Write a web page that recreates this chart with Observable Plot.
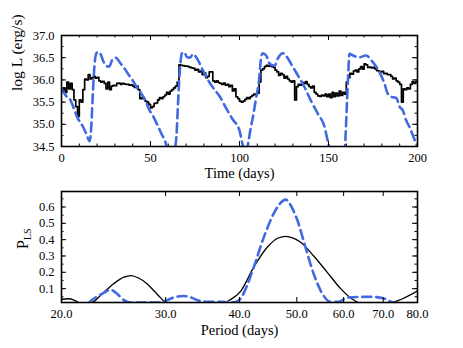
<!DOCTYPE html>
<html><head><meta charset="utf-8">
<script src="https://cdn.jsdelivr.net/npm/d3@7"></script>
<script src="https://cdn.jsdelivr.net/npm/@observablehq/plot@0.6"></script>
<style>
body{margin:0;background:#fff;}
#chart{width:463px;height:348px;background:#fff;}
#chart svg{display:block;font-family:'Liberation Serif',serif;}
</style></head><body><div id="chart"></div>
<script>
// ---- Top panel: light curve (black step, one value per day 0..200)
const lumBlack = [
35.75,35.82,35.72,35.95,35.80,35.92,35.78,35.55,35.40,35.18,
35.55,35.50,35.78,36.02,36.00,36.12,36.02,36.05,36.08,36.04,
36.06,35.98,35.95,35.97,35.92,35.80,35.95,35.78,35.86,35.88,
35.87,35.92,35.93,35.90,35.92,35.91,35.90,35.90,35.88,35.89,
35.86,35.83,35.86,35.78,35.58,35.60,35.57,35.52,35.50,35.45,
35.37,35.40,35.47,35.48,35.55,35.60,35.58,35.62,35.66,35.72,
35.68,35.75,35.78,35.82,35.86,35.95,36.34,36.33,36.32,36.31,
36.31,36.30,36.28,36.27,36.26,36.22,36.24,36.18,36.20,36.12,
36.16,36.05,36.08,36.18,36.18,35.98,35.95,35.98,35.94,35.92,
35.90,35.93,35.88,35.90,35.85,35.88,35.75,35.80,35.62,35.58,
35.52,35.50,35.52,35.56,35.60,35.58,35.62,35.65,35.68,35.67,
35.70,35.95,36.22,36.25,36.30,36.33,36.31,36.32,36.30,36.28,
36.22,36.18,36.10,36.15,36.12,36.04,36.08,36.02,35.98,35.95,
35.98,35.55,35.85,35.90,35.88,35.94,35.92,35.96,35.90,35.85,
35.82,35.86,35.72,35.68,35.64,35.63,35.66,35.64,35.68,35.62,
35.68,35.60,35.72,35.62,35.70,35.64,35.75,35.65,35.72,35.68,
35.95,36.05,36.15,36.13,36.20,36.22,36.18,36.25,36.30,36.24,
36.36,36.34,36.28,36.29,36.27,36.28,36.25,36.21,36.20,36.18,
36.19,36.14,36.15,36.12,36.12,36.08,36.02,36.04,35.98,35.95,
35.90,35.50,35.80,35.78,35.82,35.80,35.90,35.96,35.92,35.96,
35.96];
const days = d3.range(0, lumBlack.length);

// ---- Top panel: model curve (blue dashed)
const blueT = [0,3,5,7,9,12,14,15.8,16.8,17.5,18.3,19.2,20.3,22,23.5,25,26.8,28.5,30.5,33,35,38,40,42,44.4,47,49,51.5,53.7,56,58.4,60,61.5,63,64.5,65.5,66.3,67.7,69,70.4,72,74,75.5,77,79,80.7,83,86,89,92,96,100,102,103.5,105,106,107.5,109.4,111,112,113,115,117,119.7,121.5,124.3,126,129,132.8,136.5,140,144,147.8,150,152,156,159,159.6,160.2,161,161.8,163.7,167.4,171,174.9,178.7,181.5,183.3,186,188,190,191.8,193.6,195.5,197.4,199.3,200];
const blueL = [35.80,35.62,35.55,35.35,35.15,34.95,34.78,34.62,35.0,35.6,36.2,36.55,36.63,36.58,36.42,36.32,36.30,36.45,36.50,36.38,36.28,36.10,35.99,35.85,35.72,35.55,35.35,35.18,35.00,34.80,34.60,34.40,34.48,34.35,34.7,35.5,36.1,36.60,36.62,36.52,36.50,36.58,36.52,36.42,36.25,36.12,35.95,35.78,35.62,35.40,35.12,34.86,34.50,34.35,34.60,34.85,35.16,35.61,36.0,36.45,36.60,36.55,36.36,36.32,36.48,36.60,36.55,36.36,36.10,35.84,35.54,35.24,34.94,34.55,34.3,34.2,34.3,34.75,35.31,36.06,36.59,36.55,36.51,36.55,36.40,36.17,35.91,35.69,35.61,35.60,35.39,35.31,35.09,34.94,34.75,34.56,34.5];

// ---- Bottom panel: periodograms
const periodBlack = [20,20.6,21.0,21.5,22.4,23.3,24.5,25.5,26.2,27,27.9,28.7,29.4,30.1,37.6,38.5,40.2,42.3,44.6,46.5,47.9,49.3,50.7,53.4,56.3,59.3,62.4,64,70.6,80];
const plsBlack = [0.035,0.038,0.03,0.012,0.012,0.06,0.13,0.17,0.18,0.165,0.13,0.085,0.045,0.012,0.012,0.03,0.085,0.233,0.355,0.41,0.42,0.41,0.386,0.30,0.20,0.10,0.03,0.012,0.012,0.085];
const periodBlue = [20,22.0,22.5,23.6,24.2,24.8,25.5,26.2,29.4,30.2,31.2,32.2,33.2,33.9,35,37.1,38.5,39.5,40.2,41.2,42.3,44.0,45.7,46.8,47.9,49.0,50.1,51.7,53.4,55.2,57,59,60.8,66.6,70.2,72.7,80];
const plsBlue = [0.0,0.0,0.03,0.075,0.094,0.07,0.03,0.015,0.015,0.03,0.05,0.055,0.045,0.03,0.02,0.02,0.015,0.02,0.04,0.12,0.233,0.417,0.56,0.62,0.645,0.60,0.52,0.355,0.19,0.07,0.02,0.02,0.045,0.05,0.04,0.015,0.005];

// ---- Tick labels
const timeTicks = [0,50,100,150,200];
const timeMinor = d3.range(0, 201, 10);
const lumTicks = [34.5,35.0,35.5,36.0,36.5,37.0];
const lumMinor = d3.range(34.5, 37.01, 0.25);
const periodTicks = [20,30,40,50,60,70,80];
const plsTicks = [0.1,0.2,0.3,0.4,0.5,0.6];
const plsMinor = d3.range(0.05, 0.69, 0.05);

const BLUE = "#4169e1";
const W = 463, ML = 61, MR = 46;
const FW = W - ML - MR;
const FONT = "Liberation Serif";

function frameTicks(xMajor, xMinor, yMajor, yMinor, FH) {
  const m = [];
  const L = 5, S = 2.5;
  m.push(Plot.tickX(xMajor, {x: d => d, insetTop: FH - L, stroke: "black"}));
  m.push(Plot.tickX(xMajor, {x: d => d, insetBottom: FH - L, stroke: "black"}));
  if (xMinor) {
    m.push(Plot.tickX(xMinor, {x: d => d, insetTop: FH - S, stroke: "black"}));
    m.push(Plot.tickX(xMinor, {x: d => d, insetBottom: FH - S, stroke: "black"}));
  }
  m.push(Plot.tickY(yMajor, {y: d => d, insetRight: FW - L, stroke: "black"}));
  m.push(Plot.tickY(yMajor, {y: d => d, insetLeft: FW - L, stroke: "black"}));
  if (yMinor) {
    m.push(Plot.tickY(yMinor, {y: d => d, insetRight: FW - S, stroke: "black"}));
    m.push(Plot.tickY(yMinor, {y: d => d, insetLeft: FW - S, stroke: "black"}));
  }
  return m;
}

// ---------------- Top plot
const H1 = 190, MT1 = 35, MB1 = 44;
const FH1 = H1 - MT1 - MB1;
const topPlot = Plot.plot({
  width: W, height: H1,
  marginLeft: ML, marginRight: MR, marginTop: MT1, marginBottom: MB1,
  style: {fontFamily: FONT, fontSize: "12px", background: "white", color: "black"},
  x: {domain: [0, 200]},
  y: {domain: [34.5, 37.0]},
  marks: [
    Plot.line(lumBlack, {x: (d, i) => days[i], y: d => d, curve: "step-after", stroke: "black", strokeWidth: 1.7, clip: true}),
    Plot.line(blueT, {x: d => d, y: (d, i) => blueL[i], curve: "monotone-x", stroke: BLUE, strokeWidth: 2.6, strokeDasharray: "9,5", clip: true}),
    ...frameTicks(timeTicks, timeMinor, lumTicks, lumMinor, FH1),
    Plot.frame({stroke: "black", strokeWidth: 1.6}),
    Plot.axisX({ticks: timeTicks, tickSize: 0, tickPadding: 7, tickFormat: d => String(d), label: null, fontFamily: FONT, fontSize: 12.5}),
    Plot.axisY({ticks: lumTicks, tickSize: 0, tickPadding: 7, tickFormat: d => d.toFixed(1), label: null, fontFamily: FONT, fontSize: 12.5}),
    Plot.text(["Time (days)"], {text: d => d, frameAnchor: "bottom", dy: 31.5, fontSize: 14.5, fontFamily: FONT}),
    Plot.text(["log L (erg/s)"], {text: d => d, frameAnchor: "left", dx: -44, rotate: -90, fontSize: 15.5, fontFamily: FONT})
  ]
});

// ---------------- Bottom plot
const H2 = 158, MT2 = 1, MB2 = 46;
const FH2 = H2 - MT2 - MB2;
const bottomPlot = Plot.plot({
  width: W, height: H2,
  marginLeft: ML, marginRight: MR, marginTop: MT2, marginBottom: MB2,
  style: {fontFamily: FONT, fontSize: "12px", background: "white", color: "black"},
  x: {type: "log", domain: [20, 80]},
  y: {domain: [0.015, 0.695]},
  marks: [
    Plot.line(periodBlack, {x: d => d, y: (d, i) => plsBlack[i], curve: "monotone-x", stroke: "black", strokeWidth: 1.3, clip: true}),
    Plot.line(periodBlue, {x: d => d, y: (d, i) => plsBlue[i], curve: "monotone-x", stroke: BLUE, strokeWidth: 2.6, strokeDasharray: "9,5", clip: true}),
    ...frameTicks(periodTicks, null, plsTicks, plsMinor, FH2),
    Plot.frame({stroke: "black", strokeWidth: 1.6}),
    Plot.axisX({ticks: periodTicks, tickSize: 0, tickPadding: 7, tickFormat: d => d.toFixed(1), label: null, fontFamily: FONT, fontSize: 12.5}),
    Plot.axisY({ticks: plsTicks, tickSize: 0, tickPadding: 7, tickFormat: d => d.toFixed(1), label: null, fontFamily: FONT, fontSize: 12.5}),
    Plot.text(["Period (days)"], {text: d => d, frameAnchor: "bottom", dy: 32, fontSize: 14.5, fontFamily: FONT}),
    Plot.text(["P"], {text: d => d, frameAnchor: "left", dx: -39, dy: 2, rotate: -90, fontSize: 16, fontFamily: FONT})
  ]
});

// subscript "LS" on the P label
d3.select(bottomPlot).selectAll("text")
  .filter(function () { return this.textContent === "P"; })
  .append("tspan").attr("font-size", 10).attr("dy", "0.35em").text("LS");

const c = document.getElementById("chart");
c.appendChild(topPlot);
c.appendChild(bottomPlot);
</script>
</body></html>
